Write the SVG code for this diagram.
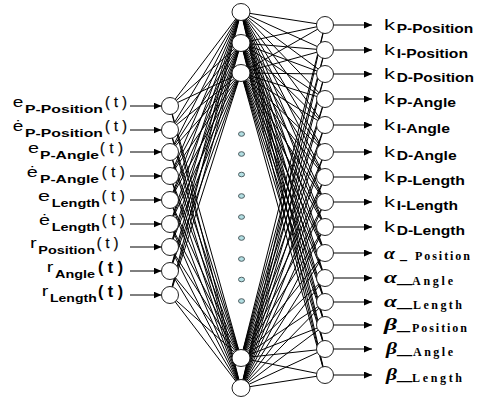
<svg xmlns="http://www.w3.org/2000/svg" width="480" height="397" viewBox="0 0 480 397">
<defs>
<marker id="ah" markerUnits="userSpaceOnUse" markerWidth="9" markerHeight="7" refX="8" refY="3.5" orient="auto"><path d="M0,0 L8,3.5 L0,7 z" fill="#000"/></marker>
<style>
.ln line{stroke:#000;stroke-width:1}
.ar{stroke:#000;stroke-width:1.3;marker-end:url(#ah)}
.nd{fill:#fff;stroke:#222;stroke-width:1}
.dot{fill:#b3dfe3;stroke:#3f4f52;stroke-width:0.9}
.m{font-family:"Liberation Sans",Arial,sans-serif;font-size:15px;fill:#000}
.t{font-family:"Liberation Sans",Arial,sans-serif;font-size:14px;fill:#000;stroke:#000;stroke-width:0.25}
.s{font-family:"Liberation Sans",Arial,sans-serif;font-size:11px;font-weight:bold;fill:#000}
.so{font-family:"Liberation Sans",Arial,sans-serif;font-size:12px;font-weight:bold;fill:#000}
.tb{font-family:"Liberation Sans",Arial,sans-serif;font-size:16px;font-weight:bold;fill:#000}
.g{font-family:"Liberation Serif","Times New Roman",serif;font-size:17px;font-weight:bold;font-style:italic;fill:#000}
.w{font-family:"Liberation Serif","Times New Roman",serif;font-size:12px;font-weight:bold;fill:#000}
.u{font-family:"Liberation Serif","Times New Roman",serif;font-size:16px;font-weight:bold;fill:#000}
</style>
</defs>
<rect width="480" height="397" fill="#fff"/>
<g id="connectors" class="ln">
<line x1="170" y1="106" x2="241" y2="12"/><line x1="170" y1="106" x2="241" y2="43"/><line x1="170" y1="106" x2="241" y2="73"/><line x1="170" y1="106" x2="241" y2="358"/><line x1="170" y1="106" x2="241" y2="388"/>
<line x1="170" y1="130" x2="241" y2="12"/><line x1="170" y1="130" x2="241" y2="43"/><line x1="170" y1="130" x2="241" y2="73"/><line x1="170" y1="130" x2="241" y2="358"/><line x1="170" y1="130" x2="241" y2="388"/>
<line x1="170" y1="152" x2="241" y2="12"/><line x1="170" y1="152" x2="241" y2="43"/><line x1="170" y1="152" x2="241" y2="73"/><line x1="170" y1="152" x2="241" y2="358"/><line x1="170" y1="152" x2="241" y2="388"/>
<line x1="170" y1="176" x2="241" y2="12"/><line x1="170" y1="176" x2="241" y2="43"/><line x1="170" y1="176" x2="241" y2="73"/><line x1="170" y1="176" x2="241" y2="358"/><line x1="170" y1="176" x2="241" y2="388"/>
<line x1="170" y1="200" x2="241" y2="12"/><line x1="170" y1="200" x2="241" y2="43"/><line x1="170" y1="200" x2="241" y2="73"/><line x1="170" y1="200" x2="241" y2="358"/><line x1="170" y1="200" x2="241" y2="388"/>
<line x1="170" y1="224" x2="241" y2="12"/><line x1="170" y1="224" x2="241" y2="43"/><line x1="170" y1="224" x2="241" y2="73"/><line x1="170" y1="224" x2="241" y2="358"/><line x1="170" y1="224" x2="241" y2="388"/>
<line x1="170" y1="247" x2="241" y2="12"/><line x1="170" y1="247" x2="241" y2="43"/><line x1="170" y1="247" x2="241" y2="73"/><line x1="170" y1="247" x2="241" y2="358"/><line x1="170" y1="247" x2="241" y2="388"/>
<line x1="170" y1="271" x2="241" y2="12"/><line x1="170" y1="271" x2="241" y2="43"/><line x1="170" y1="271" x2="241" y2="73"/><line x1="170" y1="271" x2="241" y2="358"/><line x1="170" y1="271" x2="241" y2="388"/>
<line x1="170" y1="295" x2="241" y2="12"/><line x1="170" y1="295" x2="241" y2="43"/><line x1="170" y1="295" x2="241" y2="73"/><line x1="170" y1="295" x2="241" y2="358"/><line x1="170" y1="295" x2="241" y2="388"/>

<line x1="241" y1="12" x2="325" y2="25"/><line x1="241" y1="12" x2="325" y2="50"/><line x1="241" y1="12" x2="325" y2="74"/><line x1="241" y1="12" x2="325" y2="99"/><line x1="241" y1="12" x2="325" y2="125"/><line x1="241" y1="12" x2="325" y2="152"/><line x1="241" y1="12" x2="325" y2="177"/><line x1="241" y1="12" x2="325" y2="202"/><line x1="241" y1="12" x2="325" y2="227"/><line x1="241" y1="12" x2="325" y2="253"/><line x1="241" y1="12" x2="325" y2="278"/><line x1="241" y1="12" x2="325" y2="302"/><line x1="241" y1="12" x2="325" y2="325"/><line x1="241" y1="12" x2="325" y2="349"/><line x1="241" y1="12" x2="325" y2="375"/>
<line x1="241" y1="43" x2="325" y2="25"/><line x1="241" y1="43" x2="325" y2="50"/><line x1="241" y1="43" x2="325" y2="74"/><line x1="241" y1="43" x2="325" y2="99"/><line x1="241" y1="43" x2="325" y2="125"/><line x1="241" y1="43" x2="325" y2="152"/><line x1="241" y1="43" x2="325" y2="177"/><line x1="241" y1="43" x2="325" y2="202"/><line x1="241" y1="43" x2="325" y2="227"/><line x1="241" y1="43" x2="325" y2="253"/><line x1="241" y1="43" x2="325" y2="278"/><line x1="241" y1="43" x2="325" y2="302"/><line x1="241" y1="43" x2="325" y2="325"/><line x1="241" y1="43" x2="325" y2="349"/><line x1="241" y1="43" x2="325" y2="375"/>
<line x1="241" y1="73" x2="325" y2="25"/><line x1="241" y1="73" x2="325" y2="50"/><line x1="241" y1="73" x2="325" y2="74"/><line x1="241" y1="73" x2="325" y2="99"/><line x1="241" y1="73" x2="325" y2="125"/><line x1="241" y1="73" x2="325" y2="152"/><line x1="241" y1="73" x2="325" y2="177"/><line x1="241" y1="73" x2="325" y2="202"/><line x1="241" y1="73" x2="325" y2="227"/><line x1="241" y1="73" x2="325" y2="253"/><line x1="241" y1="73" x2="325" y2="278"/><line x1="241" y1="73" x2="325" y2="302"/><line x1="241" y1="73" x2="325" y2="325"/><line x1="241" y1="73" x2="325" y2="349"/><line x1="241" y1="73" x2="325" y2="375"/>
<line x1="241" y1="358" x2="325" y2="25"/><line x1="241" y1="358" x2="325" y2="50"/><line x1="241" y1="358" x2="325" y2="74"/><line x1="241" y1="358" x2="325" y2="99"/><line x1="241" y1="358" x2="325" y2="125"/><line x1="241" y1="358" x2="325" y2="152"/><line x1="241" y1="358" x2="325" y2="177"/><line x1="241" y1="358" x2="325" y2="202"/><line x1="241" y1="358" x2="325" y2="227"/><line x1="241" y1="358" x2="325" y2="253"/><line x1="241" y1="358" x2="325" y2="278"/><line x1="241" y1="358" x2="325" y2="302"/><line x1="241" y1="358" x2="325" y2="325"/><line x1="241" y1="358" x2="325" y2="349"/><line x1="241" y1="358" x2="325" y2="375"/>
<line x1="241" y1="388" x2="325" y2="25"/><line x1="241" y1="388" x2="325" y2="50"/><line x1="241" y1="388" x2="325" y2="74"/><line x1="241" y1="388" x2="325" y2="99"/><line x1="241" y1="388" x2="325" y2="125"/><line x1="241" y1="388" x2="325" y2="152"/><line x1="241" y1="388" x2="325" y2="177"/><line x1="241" y1="388" x2="325" y2="202"/><line x1="241" y1="388" x2="325" y2="227"/><line x1="241" y1="388" x2="325" y2="253"/><line x1="241" y1="388" x2="325" y2="278"/><line x1="241" y1="388" x2="325" y2="302"/><line x1="241" y1="388" x2="325" y2="325"/><line x1="241" y1="388" x2="325" y2="349"/><line x1="241" y1="388" x2="325" y2="375"/>

<line class="ar" x1="130" y1="106" x2="161.5" y2="106"/>
<line class="ar" x1="130" y1="130" x2="161.5" y2="130"/>
<line class="ar" x1="130" y1="152" x2="161.5" y2="152"/>
<line class="ar" x1="130" y1="176" x2="161.5" y2="176"/>
<line class="ar" x1="130" y1="200" x2="161.5" y2="200"/>
<line class="ar" x1="130" y1="224" x2="161.5" y2="224"/>
<line class="ar" x1="130" y1="247" x2="161.5" y2="247"/>
<line class="ar" x1="130" y1="271" x2="161.5" y2="271"/>
<line class="ar" x1="130" y1="295" x2="161.5" y2="295"/>

<line class="ar" x1="333.5" y1="25" x2="372" y2="25"/>
<line class="ar" x1="333.5" y1="50" x2="372" y2="50"/>
<line class="ar" x1="333.5" y1="74" x2="372" y2="74"/>
<line class="ar" x1="333.5" y1="99" x2="372" y2="99"/>
<line class="ar" x1="333.5" y1="125" x2="372" y2="125"/>
<line class="ar" x1="333.5" y1="152" x2="372" y2="152"/>
<line class="ar" x1="333.5" y1="177" x2="372" y2="177"/>
<line class="ar" x1="333.5" y1="202" x2="372" y2="202"/>
<line class="ar" x1="333.5" y1="227" x2="372" y2="227"/>
<line class="ar" x1="333.5" y1="253" x2="372" y2="253"/>
<line class="ar" x1="333.5" y1="278" x2="372" y2="278"/>
<line class="ar" x1="333.5" y1="302" x2="372" y2="302"/>
<line class="ar" x1="333.5" y1="325" x2="372" y2="325"/>
<line class="ar" x1="333.5" y1="349" x2="372" y2="349"/>
<line class="ar" x1="333.5" y1="375" x2="372" y2="375"/>
</g>

<g id="in1"><circle class="nd" cx="170" cy="106" r="8.5"/><text class="m" x="12.7" y="107" textLength="10.6" lengthAdjust="spacingAndGlyphs">e</text><text class="s" x="25" y="112.5" textLength="78" lengthAdjust="spacingAndGlyphs">P-Position</text><text class="t" x="105" y="107" textLength="22">(t)</text></g>
<g id="in2"><circle class="nd" cx="170" cy="130" r="8.5"/><text class="m" x="12.7" y="131" textLength="10.6" lengthAdjust="spacingAndGlyphs">ė</text><text class="s" x="25" y="136.5" textLength="78" lengthAdjust="spacingAndGlyphs">P-Position</text><text class="t" x="105" y="131" textLength="22">(t)</text></g>
<g id="in3"><circle class="nd" cx="170" cy="152" r="8.5"/><text class="m" x="28" y="153" textLength="11" lengthAdjust="spacingAndGlyphs">e</text><text class="s" x="40" y="158.5" textLength="59" lengthAdjust="spacingAndGlyphs">P-Angle</text><text class="t" x="100" y="153" textLength="23">(t)</text></g>
<g id="in4"><circle class="nd" cx="170" cy="176" r="8.5"/><text class="m" x="26.7" y="177" textLength="11" lengthAdjust="spacingAndGlyphs">ė</text><text class="s" x="40" y="182.5" textLength="59" lengthAdjust="spacingAndGlyphs">P-Angle</text><text class="t" x="101.7" y="177" textLength="23">(t)</text></g>
<g id="in5"><circle class="nd" cx="170" cy="200" r="8.5"/><text class="m" x="38" y="201" textLength="12" lengthAdjust="spacingAndGlyphs">e</text><text class="s" x="51.7" y="206.5" textLength="48.3" lengthAdjust="spacingAndGlyphs">Length</text><text class="t" x="101.7" y="201" textLength="23">(t)</text></g>
<g id="in6"><circle class="nd" cx="170" cy="224" r="8.5"/><text class="m" x="39" y="225" textLength="11" lengthAdjust="spacingAndGlyphs">ė</text><text class="s" x="51.7" y="230.5" textLength="48.3" lengthAdjust="spacingAndGlyphs">Length</text><text class="t" x="101.7" y="225" textLength="23">(t)</text></g>
<g id="in7"><circle class="nd" cx="170" cy="247" r="8.5"/><text class="m" x="30" y="248" textLength="6.7" lengthAdjust="spacingAndGlyphs">r</text><text class="s" x="38.3" y="253.5" textLength="56.7" lengthAdjust="spacingAndGlyphs">Position</text><text class="t" x="96.7" y="248" textLength="21.6">(t)</text></g>
<g id="in8"><circle class="nd" cx="170" cy="271" r="8.5"/><text class="m" x="46.7" y="272" textLength="6.6" lengthAdjust="spacingAndGlyphs">r</text><text class="s" x="55" y="277.5" textLength="40" lengthAdjust="spacingAndGlyphs">Angle</text><text class="tb" x="98" y="272.5" textLength="25">(t)</text></g>
<g id="in9"><circle class="nd" cx="170" cy="295" r="8.5"/><text class="m" x="41.7" y="296" textLength="6.6" lengthAdjust="spacingAndGlyphs">r</text><text class="s" x="50" y="301.5" textLength="46.7" lengthAdjust="spacingAndGlyphs">Length</text><text class="tb" x="98" y="296.5" textLength="25">(t)</text></g>

<g id="h1"><ellipse class="nd" cx="241" cy="12" rx="9" ry="8.5"/></g>
<g id="h2"><ellipse class="nd" cx="241" cy="43" rx="9" ry="8.5"/></g>
<g id="h3"><ellipse class="nd" cx="241" cy="73" rx="9" ry="8.5"/></g>
<g id="hdots">
<ellipse class="dot" cx="241.5" cy="134" rx="3" ry="2.3"/>
<ellipse class="dot" cx="241.5" cy="154" rx="3" ry="2.3"/>
<ellipse class="dot" cx="241.5" cy="174.5" rx="3" ry="2.3"/>
<ellipse class="dot" cx="241.5" cy="196" rx="3" ry="2.3"/>
<ellipse class="dot" cx="241.5" cy="217" rx="3" ry="2.3"/>
<ellipse class="dot" cx="241.5" cy="238" rx="3" ry="2.3"/>
<ellipse class="dot" cx="241.5" cy="259" rx="3" ry="2.3"/>
<ellipse class="dot" cx="241.5" cy="279.5" rx="3" ry="2.3"/>
<ellipse class="dot" cx="241.5" cy="301" rx="3" ry="2.3"/>
</g>
<g id="h4"><ellipse class="nd" cx="241" cy="358" rx="9" ry="8.5"/></g>
<g id="h5"><ellipse class="nd" cx="241" cy="388" rx="9" ry="8.5"/></g>

<g id="o1"><circle class="nd" cx="325" cy="25" r="8.5"/><text class="m" x="384" y="30" textLength="11" lengthAdjust="spacingAndGlyphs">k</text><text class="so" x="396.7" y="33" textLength="76.6" lengthAdjust="spacingAndGlyphs">P-Position</text></g>
<g id="o2"><circle class="nd" cx="325" cy="50" r="8.5"/><text class="m" x="384" y="55" textLength="11" lengthAdjust="spacingAndGlyphs">k</text><text class="so" x="396.7" y="58" textLength="71.3" lengthAdjust="spacingAndGlyphs">I-Position</text></g>
<g id="o3"><circle class="nd" cx="325" cy="74" r="8.5"/><text class="m" x="384" y="79" textLength="11" lengthAdjust="spacingAndGlyphs">k</text><text class="so" x="396.7" y="82" textLength="77.3" lengthAdjust="spacingAndGlyphs">D-Position</text></g>
<g id="o4"><circle class="nd" cx="325" cy="99" r="8.5"/><text class="m" x="384" y="104" textLength="11" lengthAdjust="spacingAndGlyphs">k</text><text class="so" x="396.7" y="107" textLength="59.3" lengthAdjust="spacingAndGlyphs">P-Angle</text></g>
<g id="o5"><circle class="nd" cx="325" cy="125" r="8.5"/><text class="m" x="384" y="130" textLength="11" lengthAdjust="spacingAndGlyphs">k</text><text class="so" x="396.7" y="133" textLength="53.3" lengthAdjust="spacingAndGlyphs">I-Angle</text></g>
<g id="o6"><circle class="nd" cx="325" cy="152" r="8.5"/><text class="m" x="384" y="157" textLength="11" lengthAdjust="spacingAndGlyphs">k</text><text class="so" x="396.7" y="160" textLength="60" lengthAdjust="spacingAndGlyphs">D-Angle</text></g>
<g id="o7"><circle class="nd" cx="325" cy="177" r="8.5"/><text class="m" x="384" y="182" textLength="11" lengthAdjust="spacingAndGlyphs">k</text><text class="so" x="396.7" y="185" textLength="68.3" lengthAdjust="spacingAndGlyphs">P-Length</text></g>
<g id="o8"><circle class="nd" cx="325" cy="202" r="8.5"/><text class="m" x="384" y="207" textLength="11" lengthAdjust="spacingAndGlyphs">k</text><text class="so" x="396.7" y="210" textLength="61.3" lengthAdjust="spacingAndGlyphs">I-Length</text></g>
<g id="o9"><circle class="nd" cx="325" cy="227" r="8.5"/><text class="m" x="384" y="232" textLength="11" lengthAdjust="spacingAndGlyphs">k</text><text class="so" x="396.7" y="235" textLength="68.3" lengthAdjust="spacingAndGlyphs">D-Length</text></g>
<g id="o10"><circle class="nd" cx="325" cy="253" r="8.5"/><text class="g" x="384" y="258.5" textLength="11" lengthAdjust="spacingAndGlyphs">α</text><text class="u" x="400" y="258.5" textLength="7" lengthAdjust="spacingAndGlyphs">_</text><text class="w" x="415" y="260" textLength="55">Position</text></g>
<g id="o11"><circle class="nd" cx="325" cy="278" r="8.5"/><text class="g" x="384" y="283" textLength="13" lengthAdjust="spacingAndGlyphs">α</text><text class="u" x="397" y="283" textLength="15" lengthAdjust="spacingAndGlyphs">_</text><text class="w" x="412" y="285" textLength="41">Angle</text></g>
<g id="o12"><circle class="nd" cx="325" cy="302" r="8.5"/><text class="g" x="384" y="307" textLength="13" lengthAdjust="spacingAndGlyphs">α</text><text class="u" x="397" y="307" textLength="15" lengthAdjust="spacingAndGlyphs">_</text><text class="w" x="413" y="309" textLength="49">Length</text></g>
<g id="o13"><circle class="nd" cx="325" cy="325" r="8.5"/><text class="g" x="384" y="330" textLength="13" lengthAdjust="spacingAndGlyphs">β</text><text class="u" x="397" y="330" textLength="13" lengthAdjust="spacingAndGlyphs">_</text><text class="w" x="412" y="332" textLength="55">Position</text></g>
<g id="o14"><circle class="nd" cx="325" cy="349" r="8.5"/><text class="g" x="386" y="354" textLength="11" lengthAdjust="spacingAndGlyphs">β</text><text class="u" x="397" y="354" textLength="15" lengthAdjust="spacingAndGlyphs">_</text><text class="w" x="413" y="356" textLength="40">Angle</text></g>
<g id="o15"><circle class="nd" cx="325" cy="375" r="8.5"/><text class="g" x="386" y="380" textLength="11" lengthAdjust="spacingAndGlyphs">β</text><text class="u" x="397" y="380" textLength="15" lengthAdjust="spacingAndGlyphs">_</text><text class="w" x="412" y="382" textLength="50">Length</text></g>
</svg>
